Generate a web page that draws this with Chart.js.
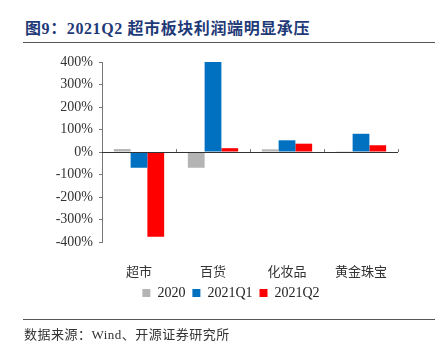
<!DOCTYPE html>
<html>
<head>
<meta charset="utf-8">
<script src="https://cdn.jsdelivr.net/npm/chart.js@4/dist/chart.umd.min.js"></script>
<style>
    body { margin: 0; background: #fff; }
    #wrap { position: relative; width: 445px; height: 351px; }
    #title { position: absolute; left: 25px; top: 15px; font: bold 16px "Liberation Serif", "Noto Sans CJK SC", serif; letter-spacing: 0.6px; color: #1F3A78; white-space: nowrap; }
    .rule { position: absolute; left: 23px; width: 412px; height: 1px; background: #555; }
    #source { position: absolute; left: 24px; top: 324px; font: 13px "Liberation Serif", "Noto Sans CJK SC", serif; letter-spacing: 0.5px; color: #333; white-space: nowrap; }
    canvas { position: absolute; left: 0; top: 0; }
</style>
</head>
<body>
<div id="wrap">
    <div id="title">图9：2021Q2 超市板块利润端明显承压</div>
    <div class="rule" style="top:42px"></div>
    <canvas id="chart" width="445" height="351"></canvas>
    <div class="rule" style="top:319px"></div>
    <div id="source">数据来源：Wind、开源证券研究所</div>
</div>
<script>
const categories = ['超市', '百货', '化妆品', '黄金珠宝'];
const seriesNames = ['2020', '2021Q1', '2021Q2'];
const values2020 = [13, -70, 12, 1];
const values2021Q1 = [-70, 400, 52, 81];
const values2021Q2 = [-377, 17, 37, 30];
const yTicks = [-400, -300, -200, -100, 0, 100, 200, 300, 400];

const colors = ['#B4B4B4', '#0070C0', '#FF0000'];
const serif = '"Liberation Serif", "Times New Roman", serif';

// zero line with small tick marks at category boundaries, legend nudged right
const zeroTicks = {
    id: 'zeroTicks',
    afterLayout(chart) {
        chart.legend.left += 32;
        chart.legend.right += 32;
    },
    afterDatasetsDraw(chart) {
        const ctx = chart.ctx;
        const x = chart.scales.x;
        const y0 = chart.scales.y.getPixelForValue(0);
        ctx.save();
        ctx.strokeStyle = '#777';
        ctx.lineWidth = 1;
        for (let i = 0; i <= categories.length; i++) {
            const px = Math.round(x.left + i * (x.right - x.left) / categories.length) + 0.5;
            ctx.beginPath();
            ctx.moveTo(px, y0 - 3);
            ctx.lineTo(px, y0);
            ctx.stroke();
        }
        ctx.strokeStyle = '#333';
        ctx.beginPath();
        ctx.moveTo(x.left, Math.round(y0) + 0.5);
        ctx.lineTo(x.right, Math.round(y0) + 0.5);
        ctx.stroke();
        ctx.restore();
    }
};

new Chart(document.getElementById('chart'), {
    type: 'bar',
    data: {
        labels: categories,
        datasets: [values2020, values2021Q1, values2021Q2].map((vals, i) => ({
            label: seriesNames[i],
            data: vals,
            backgroundColor: colors[i],
            borderWidth: 0,
            categoryPercentage: 0.68,
            barPercentage: 1,
        })),
    },
    options: {
        responsive: false,
        animation: false,
        layout: { padding: { left: 0, right: 47, top: 62, bottom: 41 } },
        plugins: {
            tooltip: { enabled: false },
            legend: {
                position: 'bottom',
                labels: {
                    boxWidth: 8,
                    boxHeight: 8,
                    padding: 7,
                    color: '#222',
                    font: { family: serif, size: 14 },
                },
            },
        },
        scales: {
            x: {
                border: { display: false },
                grid: { display: false },
                ticks: {
                    padding: 13,
                    color: '#333',
                    font: { family: '"Noto Sans CJK SC", sans-serif', size: 13 },
                },
                afterFit(scale) { scale.height = 37; },
            },
            y: {
                min: -400,
                max: 400,
                border: { display: true, color: '#777' },
                grid: { drawOnChartArea: false, tickLength: 3, color: '#777' },
                afterBuildTicks(scale) { scale.ticks = yTicks.map(v => ({ value: v })); },
                ticks: {
                    padding: 6,
                    color: '#333',
                    font: { family: serif, size: 14 },
                    callback: v => v + '%',
                },
                afterFit(scale) { scale.width = 102; },
            },
        },
    },
    plugins: [zeroTicks],
});
</script>
</body>
</html>
